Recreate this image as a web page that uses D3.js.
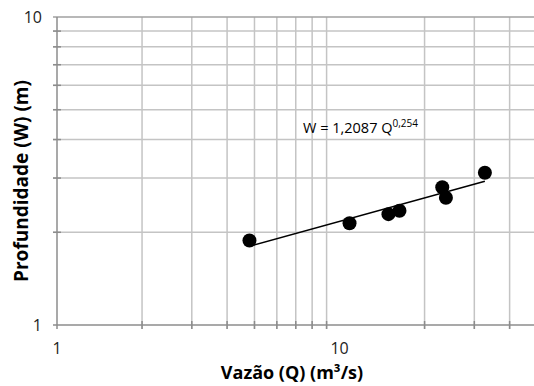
<!DOCTYPE html>
<html>
<head>
<meta charset="utf-8">
<script src="https://cdn.jsdelivr.net/npm/d3@7"></script>
<style>
  body { margin: 0; background: #fff; }
  text { font-family: "Open Sans", "Liberation Sans", sans-serif; }
</style>
</head>
<body>
<div id="chart"></div>
<script>
// measured points: discharge (Q) and depth (W)
const vazao = [4.8, 10.85, 14.9, 16.3, 23.1, 23.8, 32.7];
const profundidade = [1.88, 2.14, 2.29, 2.35, 2.80, 2.59, 3.12];
const coefA = 1.2087;
const expoB = 0.254;
const xTicks = [1, 10];
const yTicks = [1, 10];
const xGrid = [2, 3, 4, 5, 6, 7, 8, 9, 20, 30, 40, 50];
const yGrid = [2, 3, 4, 5, 6, 7, 8, 9];

const width = 534, height = 386;
const margin = {top: 17, right: -3, bottom: 61, left: 57};

const svg = d3.select("#chart").append("svg")
    .attr("width", width)
    .attr("height", height);

const x = d3.scaleLog().domain([1, 50]).range([margin.left, width - margin.right]);
const y = d3.scaleLog().domain([1, 10]).range([height - margin.bottom, margin.top]);

// grid
svg.append("g").selectAll("line").data(xGrid).join("line")
    .attr("x1", d => x(d)).attr("x2", d => x(d))
    .attr("y1", y(1) + 4).attr("y2", y(10))
    .attr("stroke", "#c4c4c4").attr("stroke-width", 1.5);

svg.append("g").selectAll("line").data(yGrid).join("line")
    .attr("x1", x(1) - 4).attr("x2", width)
    .attr("y1", d => y(d)).attr("y2", d => y(d))
    .attr("stroke", "#c4c4c4").attr("stroke-width", 1.5);

// tick marks on the axes
svg.append("g").selectAll("line").data(xGrid).join("line")
    .attr("x1", d => x(d)).attr("x2", d => x(d))
    .attr("y1", y(1) - 4).attr("y2", y(1) + 4)
    .attr("stroke", "#8c8c8c").attr("stroke-width", 1.5);
svg.append("g").selectAll("line").data(yGrid).join("line")
    .attr("x1", x(1) - 4).attr("x2", x(1) + 4)
    .attr("y1", d => y(d)).attr("y2", d => y(d))
    .attr("stroke", "#8c8c8c").attr("stroke-width", 1.5);

// axes lines
svg.append("line")
    .attr("x1", x(1) - 4).attr("x2", width)
    .attr("y1", y(1)).attr("y2", y(1))
    .attr("stroke", "#8c8c8c").attr("stroke-width", 1.5);
svg.append("line")
    .attr("x1", x(1) - 4).attr("x2", width)
    .attr("y1", y(10)).attr("y2", y(10))
    .attr("stroke", "#a0a0a0").attr("stroke-width", 1.5);
svg.append("line")
    .attr("x1", x(1)).attr("x2", x(1))
    .attr("y1", y(1) + 4).attr("y2", y(10))
    .attr("stroke", "#8c8c8c").attr("stroke-width", 1.5);

// tick labels
svg.append("g").selectAll("text").data(xTicks).join("text")
    .attr("x", d => x(d)).attr("y", y(1) + 29)
    .attr("text-anchor", "middle")
    .style("font-size", "16px").attr("fill", "#222")
    .text(d => d);
svg.append("g").selectAll("text").data(yTicks).join("text")
    .attr("x", x(1) - 15).attr("y", d => y(d) + 6)
    .attr("text-anchor", "end")
    .style("font-size", "16px").attr("fill", "#222")
    .text(d => d);

// trend line W = a Q^b
const qExt = d3.extent(vazao);
const trend = d3.line().x(d => x(d)).y(d => y(coefA * Math.pow(d, expoB)));
svg.append("path")
    .attr("d", trend(qExt))
    .attr("fill", "none").attr("stroke", "#000").attr("stroke-width", 1.5);

// points
svg.append("g").selectAll("circle").data(vazao).join("circle")
    .attr("cx", d => x(d))
    .attr("cy", (d, i) => y(profundidade[i]))
    .attr("r", 7)
    .attr("fill", "#000");

// equation
const eq = svg.append("text")
    .attr("x", 303).attr("y", 133)
    .style("font-size", "14.5px").attr("fill", "#000");
eq.append("tspan").text("W = 1,2087 Q");
eq.append("tspan").attr("dy", -6).style("font-size", "10px").text("0,254");

// axis titles
svg.append("text")
    .attr("x", 292).attr("y", 379)
    .attr("text-anchor", "middle")
    .style("font-size", "18px").style("font-weight", "bold")
    .text("Vazão (Q) (m³/s)");
svg.append("text")
    .attr("transform", "translate(28," + ((y(1) + y(10)) / 2 + 10) + ") rotate(-90)")
    .attr("text-anchor", "middle")
    .style("font-size", "19px").style("font-weight", "bold")
    .text("Profundidade (W) (m)");
</script>
</body>
</html>
